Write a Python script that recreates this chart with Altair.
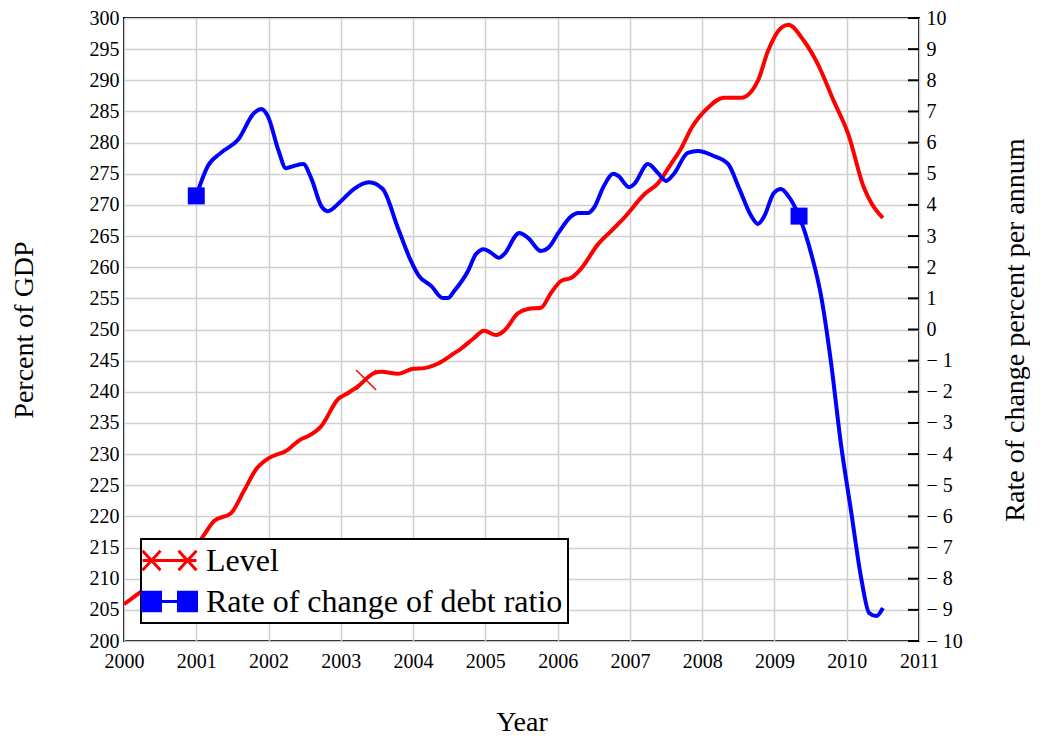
import altair as alt
import pandas as pd

# ---------------- data ----------------
level_years = [2000.00, 2000.28, 2000.65, 2001.07, 2001.25, 2001.48, 2001.66, 2001.83,
               2002.01, 2002.24, 2002.45, 2002.55, 2002.73, 2002.96, 2003.10, 2003.24,
               2003.46, 2003.56, 2003.79, 2004.00, 2004.15, 2004.34, 2004.57, 2004.66,
               2004.84, 2004.98, 2005.15, 2005.26, 2005.45, 2005.59, 2005.77, 2005.91,
               2006.05, 2006.19, 2006.32, 2006.56, 2006.74, 2006.92, 2007.20, 2007.39,
               2007.57, 2007.71, 2007.85, 2008.08, 2008.30, 2008.54, 2008.77, 2008.91,
               2009.09, 2009.19, 2009.41, 2009.60, 2009.82, 2010.02, 2010.24, 2010.34,
               2010.50]
level_values = [205.9, 208.3, 211.2, 216.4, 219.3, 220.5, 224.1, 227.6,
                229.4, 230.5, 232.4, 232.9, 234.5, 238.8, 239.8, 240.9,
                243.0, 243.2, 242.9, 243.7, 243.8, 244.5, 246.2, 246.9,
                248.6, 249.8, 249.1, 249.8, 252.6, 253.3, 253.5, 255.9,
                257.8, 258.3, 259.7, 263.7, 265.8, 267.9, 271.7, 273.5,
                276.6, 279.1, 282.3, 285.6, 287.2, 287.2, 289.9, 294.7,
                298.4, 298.9, 296.3, 292.6, 286.7, 281.4, 272.7, 270.3,
                267.9]

rate_years = [2001.00, 2001.16, 2001.34, 2001.58, 2001.80, 2001.90, 2001.99, 2002.14,
              2002.24, 2002.35, 2002.48, 2002.59, 2002.73, 2002.82, 2003.00, 2003.18,
              2003.39, 2003.58, 2003.79, 2003.97, 2004.08, 2004.25, 2004.41, 2004.48,
              2004.57, 2004.76, 2004.87, 2004.98, 2005.08, 2005.19, 2005.26, 2005.47,
              2005.59, 2005.77, 2005.87, 2006.01, 2006.19, 2006.28, 2006.42, 2006.50,
              2006.64, 2006.77, 2006.84, 2006.99, 2007.06, 2007.25, 2007.39, 2007.50,
              2007.61, 2007.80, 2007.94, 2008.16, 2008.36, 2008.51, 2008.68, 2008.77,
              2008.86, 2008.99, 2009.09, 2009.19, 2009.34, 2009.51, 2009.64, 2009.78,
              2009.92, 2010.06, 2010.20, 2010.31, 2010.41, 2010.50]
rate_values = [4.29, 5.25, 5.67, 6.10, 6.95, 7.08, 6.85, 5.73,
               5.18, 5.25, 5.31, 4.86, 3.96, 3.80, 4.12, 4.51,
               4.73, 4.51, 3.26, 2.20, 1.72, 1.40, 1.01, 1.01,
               1.24, 1.88, 2.42, 2.58, 2.46, 2.30, 2.42, 3.10,
               2.94, 2.52, 2.62, 3.10, 3.64, 3.74, 3.74, 3.90,
               4.61, 5.00, 4.93, 4.57, 4.67, 5.31, 5.02, 4.77,
               5.00, 5.67, 5.73, 5.57, 5.31, 4.54, 3.64, 3.39,
               3.64, 4.38, 4.51, 4.29, 3.64, 2.42, 1.14, -1.01,
               -3.68, -5.83, -7.98, -9.10, -9.20, -8.94]

level_marker_years = [2003.35]
level_marker_values = [241.9]
rate_marker_years = [2001.00, 2009.34]
rate_marker_values = [4.29, 3.64]

series_names = ["Level", "Rate of change of debt ratio"]
series_colors = ["#ff0000", "#0000ff"]

x_ticks = list(range(2000, 2012))
left_ticks = list(range(200, 301, 5))
right_ticks = list(range(-10, 11))

# ---------------- chart ----------------
W, H = 795, 623
FONT = "Liberation Serif"

level_df = pd.DataFrame({"year": level_years, "value": level_values})
rate_df = pd.DataFrame({"year": rate_years, "value": rate_values})
lmark_df = pd.DataFrame({"year": level_marker_years, "value": level_marker_values})
rmark_df = pd.DataFrame({"year": rate_marker_years, "value": rate_marker_values})
legend_df = pd.DataFrame({"series": series_names, "year": [2000, 2000], "value": [250, 250]})
rtick_df = pd.DataFrame({"value": right_ticks})

x_scale = alt.Scale(domain=[2000, 2011], nice=False, zero=False)
left_scale = alt.Scale(domain=[200, 300], nice=False, zero=False)
right_scale = alt.Scale(domain=[-10, 10], nice=False, zero=False)

common = dict(labelFont=FONT, titleFont=FONT, labelFontSize=20, titleFontSize=28,
              labelColor="black", titleColor="black", titleFontWeight="normal",
              labelFlush=False, labelOverlap=False, domain=False, ticks=False)

x_axis = alt.Axis(values=x_ticks, format="d", title="Year", grid=True,
                  labelPadding=10, titlePadding=37, **common)
left_axis = alt.Axis(values=left_ticks, title="Percent of GDP", grid=True,
                     labelPadding=5, titlePadding=51, **common)
right_axis = alt.Axis(values=right_ticks, orient="right", title="Rate of change percent per annum",
                      grid=False, labelPadding=7, titlePadding=67, titleAngle=270,
                      labelExpr="datum.value < 0 ? '\u2212 ' + abs(datum.value) : datum.label",
                      **common)

X = alt.X("year:Q", scale=x_scale, axis=x_axis)
YL = alt.Y("value:Q", scale=left_scale, axis=left_axis)
YR = alt.Y("value:Q", scale=right_scale, axis=right_axis)

red_line = alt.Chart(level_df).mark_line(
    color=series_colors[0], strokeWidth=4, interpolate="monotone"
).encode(x=X, y=YL)

red_mark = alt.Chart(lmark_df).mark_point(
    shape="M-1,-1L1,1M-1,1L1,-1", size=400, strokeWidth=1.5, color=series_colors[0],
    filled=False, opacity=1
).encode(x=X, y=YL)

path_level = ("M-1.8,-0.65L-0.6,0.65M-1.8,0.65L-0.6,-0.65"
              "M0.6,-0.65L1.8,0.65M0.6,0.65L1.8,-0.65M-1.8,0H1.8")
path_rate = "M-1.8,-0.62H-0.6V0.62H-1.8Z M0.6,-0.62H1.8V0.62H0.6Z M-1.8,0H1.8"

leg = alt.Legend(title=None, orient="none", legendX=17, legendY=521)
legend_layer = alt.Chart(legend_df).mark_point(filled=True, opacity=1, size=900).encode(
    x=X, y=YL,
    fill=alt.Fill("series:N", scale=alt.Scale(domain=series_names, range=series_colors), legend=leg),
    stroke=alt.Stroke("series:N", scale=alt.Scale(domain=series_names, range=series_colors), legend=leg),
    shape=alt.Shape("series:N", scale=alt.Scale(domain=series_names, range=[path_level, path_rate]), legend=leg),
).transform_filter("false")

left_group = alt.layer(red_line, red_mark, legend_layer)

blue_line = alt.Chart(rate_df).mark_line(
    color=series_colors[1], strokeWidth=4, interpolate="monotone"
).encode(x=X, y=YR)

blue_mark = alt.Chart(rmark_df).mark_point(
    shape="square", size=289, color=series_colors[1], filled=True, opacity=1
).encode(x=X, y=YR)

rticks = alt.Chart(rtick_df).mark_rule(color="black", strokeWidth=2).encode(
    y=YR,
    x=alt.value(W - 11), x2=alt.value(W),
)

right_group = alt.layer(blue_line, blue_mark, rticks)

chart = alt.layer(left_group, right_group).resolve_scale(
    y="independent"
).properties(
    width=W, height=H, padding={"left": 2, "top": 0, "right": 0, "bottom": 5}
).configure(
    font=FONT
).configure_view(
    stroke="black", strokeWidth=2
).configure_axis(
    labelFont=FONT, titleFont=FONT, labelFontSize=20, titleFontSize=28,
    labelColor="black", titleColor="black", titleFontWeight="normal",
    gridColor="#cfcfcf", gridWidth=1.5, gridOpacity=1
).configure_legend(
    labelFont=FONT, labelFontSize=32, labelColor="black", labelLimit=0,
    symbolSize=900, symbolStrokeWidth=3, symbolOffset=7, labelOffset=20,
    padding=5, rowPadding=8, fillColor="white", strokeColor="black", strokeWidth=2,
    symbolOpacity=1
)

chart.save("out.html", embed_options={"renderer": "svg", "actions": False})
